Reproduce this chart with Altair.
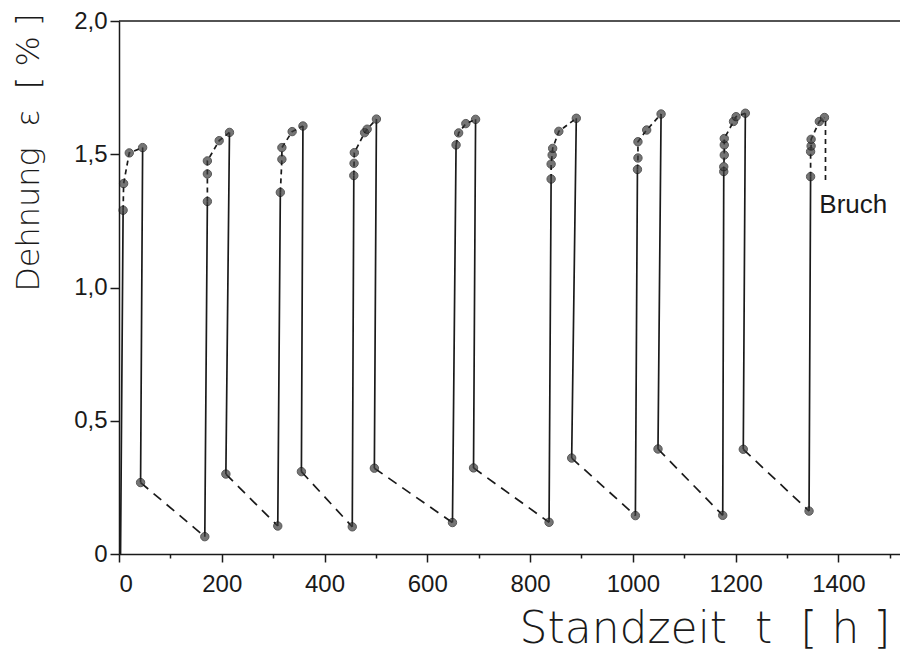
import altair as alt
import pandas as pd

# creep points of each loading cycle (time in h, strain in %)
creep_t = [
    [8, 9, 20, 46],
    [172, 172, 172, 195, 215],
    [314, 317, 317, 337, 358],
    [457, 457.5, 458, 478, 483, 501],
    [656, 661, 675, 694],
    [841, 841, 843, 844, 856, 890],
    [1009, 1010, 1010, 1027, 1055],
    [1177, 1177, 1178, 1178, 1178, 1196, 1201, 1219],
    [1346, 1346, 1347, 1347, 1363, 1373],
]
creep_e = [
    [1.29, 1.39, 1.505, 1.525],
    [1.323, 1.426, 1.475, 1.551, 1.582],
    [1.357, 1.481, 1.525, 1.585, 1.606],
    [1.42, 1.466, 1.506, 1.581, 1.594, 1.632],
    [1.535, 1.58, 1.615, 1.631],
    [1.407, 1.463, 1.497, 1.522, 1.586, 1.635],
    [1.443, 1.486, 1.547, 1.591, 1.651],
    [1.435, 1.453, 1.497, 1.535, 1.559, 1.623, 1.641, 1.654],
    [1.416, 1.51, 1.531, 1.556, 1.623, 1.638],
]
# strain before each loading (first one is the origin, no marker)
low_before_t = [3, 167, 309, 454, 649, 837, 1005, 1175, 1343]
low_before_e = [0.0, 0.065, 0.105, 0.102, 0.118, 0.119, 0.144, 0.145, 0.161]
# strain right after each unloading
low_after_t = [42, 208, 355, 497, 690, 881, 1049, 1215]
low_after_e = [0.268, 0.30, 0.309, 0.322, 0.323, 0.36, 0.394, 0.393]
# fracture marker
bruch_t = [1375, 1375]
bruch_e = [1.625, 1.39]

x_ticks = [0, 200, 400, 600, 800, 1000, 1200, 1400]
x_minor = [100, 300, 500, 700, 900, 1100, 1300, 1500]
y_ticks = [0, 0.5, 1.0, 1.5, 2.0]

NB = "\u00a0"
x_title = f"Standzeit{NB}{NB}t{NB}{NB}[{NB}h{NB}]"
y_title = f"Dehnung{NB}{NB}ε{NB}{NB}[{NB}%{NB}]"

rows = []
pts = []
seg = 0


def add(ts, es, style):
    global seg
    for k, (t, e) in enumerate(zip(ts, es)):
        rows.append({"t": t, "e": e, "seg": seg, "o": k, "style": style})
    seg += 1


n = len(creep_t)
for i in range(n):
    add([low_before_t[i], creep_t[i][0]], [low_before_e[i], creep_e[i][0]], "solid")
    add(creep_t[i], creep_e[i], "creep")
    for t, e in zip(creep_t[i], creep_e[i]):
        pts.append({"t": t, "e": e})
    if i > 0:
        pts.append({"t": low_before_t[i], "e": low_before_e[i]})
    if i < len(low_after_t):
        add([creep_t[i][-1], low_after_t[i]], [creep_e[i][-1], low_after_e[i]], "solid")
        add([low_after_t[i], low_before_t[i + 1]], [low_after_e[i], low_before_e[i + 1]], "recov")
        pts.append({"t": low_after_t[i], "e": low_after_e[i]})
add(bruch_t, bruch_e, "creep")

lines_df = pd.DataFrame(rows)
pts_df = pd.DataFrame(pts)

xscale = alt.Scale(domain=[0, 1520], nice=False, zero=False)
yscale = alt.Scale(domain=[0, 2.0], nice=False)

xaxis = alt.Axis(
    values=x_ticks, format="d", title=x_title, grid=False,
    tickSize=8, labelPadding=10,
    titleX=771, titleY=88, titleAlign="right", titleBaseline="alphabetic",
    titleFontSize=44, titleFont="DejaVu Sans", titleFontWeight=200,
)
yaxis = alt.Axis(
    values=y_ticks, title=y_title, grid=False, tickSize=9, labelPadding=3,
    labelExpr="datum.value == 0 ? '0' : replace(format(datum.value, '.1f'), '.', ',')",
    titleX=-81, titleY=-8, titleAngle=270, titleAlign="right", titleBaseline="alphabetic",
    titleFontSize=32, titleFont="DejaVu Sans", titleFontWeight=200,
)

lines = alt.Chart(lines_df).mark_line(color="#1a1a1a", strokeWidth=1.7).encode(
    x=alt.X("t:Q", scale=xscale, axis=xaxis),
    y=alt.Y("e:Q", scale=yscale, axis=yaxis),
    detail="seg:N",
    order="o:Q",
    strokeDash=alt.StrokeDash(
        "style:N",
        scale=alt.Scale(domain=["solid", "creep", "recov"], range=[[1, 0], [5, 4], [10, 7]]),
        legend=None,
    ),
)

points = alt.Chart(pts_df).mark_point(
    filled=True, shape="circle", size=70, color="#3c3c3c", stroke="#111111", strokeWidth=1
).encode(
    x=alt.X("t:Q", scale=xscale, axis=None),
    y=alt.Y("e:Q", scale=yscale),
)

minor = alt.Chart(pd.DataFrame({"t": x_minor})).mark_point(opacity=0).encode(
    x=alt.X("t:Q", scale=xscale, axis=alt.Axis(
        values=x_minor, labels=False, tickSize=4, domain=False, title=None, grid=False,
        orient="bottom")),
)

top = alt.Chart(pd.DataFrame({"e": [2.0]})).mark_rule(color="#1a1a1a", strokeWidth=1.5).encode(
    y=alt.Y("e:Q", scale=yscale)
)

bruch = alt.Chart(pd.DataFrame({"t": [1363], "e": [1.31], "txt": ["Bruch"]})).mark_text(
    align="left", baseline="middle", fontSize=26, font="Liberation Sans",
    color="#1a1a1a",
).encode(
    x=alt.X("t:Q", scale=xscale, axis=None),
    y=alt.Y("e:Q", scale=yscale),
    text="txt:N",
)

chart = alt.layer(lines, points, top, bruch, minor).resolve_axis(x="independent").properties(
    width=781, height=533,
    padding={"left": 119, "top": 21, "right": 0, "bottom": 98},
    autosize=alt.AutoSizeParams(type="none"),
).configure_view(stroke=None).configure_axis(
    domainColor="#1a1a1a", domainWidth=1.5, tickColor="#1a1a1a", tickWidth=1.5,
    labelFont="Liberation Sans", labelFontSize=24, labelColor="#1a1a1a",
    titleColor="#1a1a1a",
)

chart.save("out.html", embed_options={"renderer": "svg", "actions": False})
